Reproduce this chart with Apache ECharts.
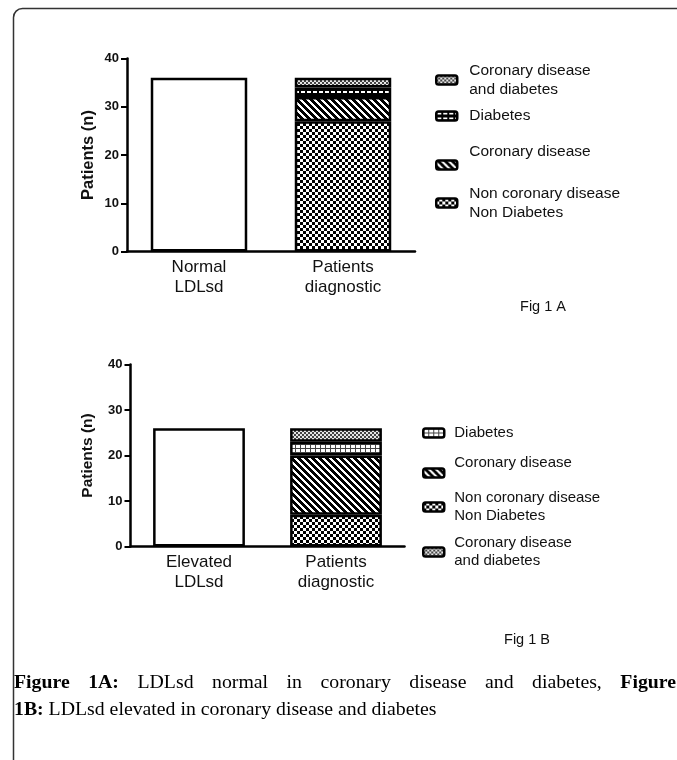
<!DOCTYPE html>
<html>
<head>
<meta charset="utf-8">
<script src="https://cdn.jsdelivr.net/npm/echarts@6/dist/echarts.min.js"></script>
<style>
  html, body { margin: 0; padding: 0; background: #fff; }
  #chart { width: 677px; height: 760px; }
</style>
</head>
<body>
<div id="chart"></div>
<script>
// ---- data ----
const categoriesA = ['Normal\nLDLsd', 'Patients\ndiagnostic'];
const categoriesB = ['Elevated\nLDLsd', 'Patients\ndiagnostic'];
const groupNames = ['Non coronary disease\nNon Diabetes', 'Coronary disease', 'Diabetes', 'Coronary disease\nand diabetes'];
const normalTotalA = 36;          // Normal LDLsd
const diagnosticA = [27, 5, 2, 2]; // stacked groups, bottom to top
const elevatedTotalB = 26;        // Elevated LDLsd
const diagnosticB = [7, 13, 3, 3];
const yTicks = [0, 10, 20, 30, 40];
const axisTitle = 'Patients (n)';
// caption: [text, bold] word runs; the first line is justified to the frame width
const captionLine1 = [['Figure', 1], ['1A:', 1], ['LDLsd', 0], ['normal', 0], ['in', 0], ['coronary', 0],
  ['disease', 0], ['and', 0], ['diabetes,', 0], ['Figure', 1]];
const captionLine2 = '{b|1B:} LDLsd elevated in coronary disease and diabetes';

// ---- hatch fills built from small pixel tiles ----
function tile(w, h, isDark, dark, light) {
  const c = document.createElement('canvas');
  c.width = w; c.height = h;
  const ctx = c.getContext('2d');
  ctx.fillStyle = light; ctx.fillRect(0, 0, w, h);
  ctx.fillStyle = dark;
  for (let y = 0; y < h; y++)
    for (let x = 0; x < w; x++)
      if (isDark(x, y)) ctx.fillRect(x, y, 1, 1);
  return { image: c, repeat: 'repeat' };
}
const checker = tile(6, 6, (x, y) => ((Math.floor(x / 3) + Math.floor(y / 3)) % 2) === 0, '#000', '#fff');
const stripes = tile(7, 7, (x, y) => (((x - y) % 7) + 7) % 7 < 3.5, '#000', '#fff');
const blocksA = tile(6, 5, (x, y) => !(x >= 1 && x <= 4 && y >= 1 && y <= 2), '#000', '#fff');
const gridB = tile(5, 4, (x, y) => x === 0 || y === 0, '#444', '#fff');
const fine = tile(4, 4, (x, y) => ((Math.floor(x / 2) + Math.floor(y / 2)) % 2) === 0, '#444', '#e6e6e6');
const fillsA = [checker, stripes, blocksA, fine];
const fillsB = [checker, stripes, gridB, fine];

const yMin = yTicks[0], yMax = yTicks[yTicks.length - 1], yStep = yTicks[1] - yTicks[0];

function yAxis(gridIndex, nameSize, nameGap) {
  return {
    type: 'value', gridIndex, min: yMin, max: yMax, interval: yStep,
    name: axisTitle, nameLocation: 'middle', nameRotate: 90, nameGap,
    nameTextStyle: { fontFamily: 'Liberation Sans', fontWeight: 'bold', fontSize: nameSize, color: '#111' },
    axisLine: { show: true, lineStyle: { color: '#000', width: 2.5 } },
    axisTick: { show: true, length: 6, lineStyle: { color: '#000', width: 2 } },
    axisLabel: { fontFamily: 'Liberation Sans', fontWeight: 'bold', fontSize: 13, color: '#111', margin: 8 },
    splitLine: { show: false }
  };
}
function xAxis(gridIndex, data) {
  return {
    type: 'category', gridIndex, data,
    axisLine: { lineStyle: { color: '#000', width: 2.5 } },
    axisTick: { alignWithLabel: true, length: 5, lineStyle: { color: '#000', width: 2 } },
    axisLabel: { interval: 0, fontFamily: 'Liberation Sans', fontSize: 17, lineHeight: 20, color: '#111', margin: 6 }
  };
}

const series = [];
function addPanel(tag, idx, total, parts, fills) {
  series.push({
    name: tag + '|total', type: 'bar', xAxisIndex: idx, yAxisIndex: idx, stack: tag,
    barWidth: '67%', data: [total, '-'],
    itemStyle: { color: '#fff', borderColor: '#000', borderWidth: 2.5 }
  });
  parts.forEach((v, i) => {
    series.push({
      name: tag + '|' + groupNames[i], type: 'bar', xAxisIndex: idx, yAxisIndex: idx, stack: tag,
      barWidth: '67%', data: ['-', v],
      itemStyle: { color: fills[i], borderColor: '#000', borderWidth: 2.5 }
    });
  });
}
addPanel('A', 0, normalTotalA, diagnosticA, fillsA);
addPanel('B', 1, elevatedTotalB, diagnosticB, fillsB);

// one legend block per entry so each can sit at its own height;
// textLift raises a single-line label above its swatch via an empty spacer line
function legendEntry(tag, groupIdx, left, iconY, fontSize, lineHeight, textLift, textIndent) {
  const name = tag + '|' + groupNames[groupIdx];
  const lines = groupNames[groupIdx].split('\n').length;
  const boxH = Math.max(9, lines * lineHeight + 2 * textLift);
  return {
    data: [name], left, top: iconY - boxH / 2, padding: 0, orient: 'vertical',
    icon: 'roundRect', itemWidth: 21, itemHeight: 9, selectedMode: false,
    itemStyle: { borderColor: '#000', borderWidth: 2.5 },
    formatter: n => {
      const label = n.split('|')[1];
      return textLift ? '{t|' + label + '}\n{g| }' : label;
    },
    textStyle: {
      fontFamily: 'Liberation Sans', fontSize, lineHeight, color: '#111',
      padding: [0, 0, 0, textIndent],
      rich: {
        t: { fontFamily: 'Liberation Sans', fontSize, lineHeight, color: '#111' },
        g: { fontSize: 1, lineHeight: Math.max(1, 2 * textLift) }
      }
    }
  };
}
const legends = [
  legendEntry('A', 3, 435, 80, 15.5, 19, 0, 7),
  legendEntry('A', 2, 435, 116, 15.5, 19, 0, 7),
  legendEntry('A', 1, 435, 165, 15.5, 19, 13, 7),
  legendEntry('A', 0, 435, 203, 15.5, 19, 0, 7),
  legendEntry('B', 2, 422, 433, 15, 17.5, 0, 5),
  legendEntry('B', 1, 422, 473, 15, 17.5, 10, 5),
  legendEntry('B', 0, 422, 507, 15, 17.5, 0, 5),
  legendEntry('B', 3, 422, 552, 15, 17.5, 0, 5)
];

// ---- caption ----
const capFont = 'Liberation Serif', capSize = 19.8;
const capLeft = 14, capRight = 676, capY1 = 683, capY2 = 710;
const measure = document.createElement('canvas').getContext('2d');
function wordWidth(w, bold) {
  measure.font = (bold ? 'bold ' : '') + capSize + 'px "' + capFont + '"';
  return measure.measureText(w).width;
}
const widths = captionLine1.map(([w, b]) => wordWidth(w, b));
const gap = (capRight - capLeft - widths.reduce((s, v) => s + v, 0)) / (captionLine1.length - 1);
const captionGraphics = [];
let cx = capLeft;
captionLine1.forEach(([w, b], i) => {
  captionGraphics.push({
    type: 'text', x: cx, y: capY1,
    style: { text: w, fontFamily: capFont, fontSize: capSize, fontWeight: b ? 'bold' : 'normal', fill: '#000', verticalAlign: 'middle' }
  });
  cx += widths[i] + gap;
});
captionGraphics.push({
  type: 'text', x: capLeft, y: capY2,
  style: {
    text: captionLine2, fontFamily: capFont, fontSize: capSize, fill: '#000', verticalAlign: 'middle',
    rich: { b: { fontFamily: capFont, fontWeight: 'bold', fontSize: capSize, fill: '#000' } }
  }
});

const chart = echarts.init(document.getElementById('chart'), null, { renderer: 'canvas' });
chart.setOption({
  animation: false,
  backgroundColor: '#fff',
  grid: [
    { left: 127, top: 58.5, width: 288, height: 193 },
    { left: 130.5, top: 364.5, width: 274, height: 182 }
  ],
  xAxis: [xAxis(0, categoriesA), xAxis(1, categoriesB)],
  yAxis: [yAxis(0, 16.5, 30), yAxis(1, 15.5, 35)],
  legend: legends,
  series,
  graphic: [
    {
      type: 'rect', shape: { x: 13.5, y: 8.5, width: 720, height: 800, r: 9 },
      style: { fill: 'none', stroke: '#333', lineWidth: 1.5 }, silent: true
    },
    {
      type: 'text', x: 543, y: 307,
      style: { text: 'Fig 1 A', fontFamily: 'Liberation Sans', fontSize: 14.5, fill: '#111', align: 'center', verticalAlign: 'middle' }
    },
    {
      type: 'text', x: 527, y: 640,
      style: { text: 'Fig 1 B', fontFamily: 'Liberation Sans', fontSize: 14.5, fill: '#111', align: 'center', verticalAlign: 'middle' }
    }
  ].concat(captionGraphics)
});
</script>
</body>
</html>
